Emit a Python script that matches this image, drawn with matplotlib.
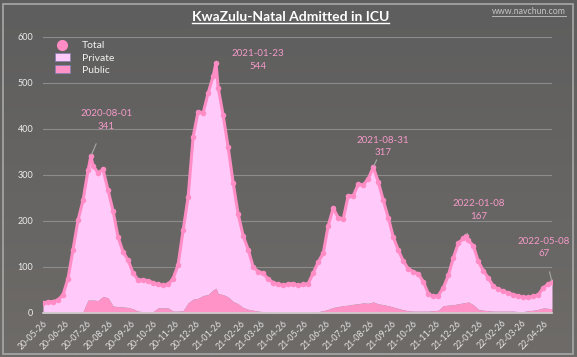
import matplotlib
matplotlib.use("Agg")
import matplotlib.pyplot as plt
import matplotlib.dates as mdates
from matplotlib.patches import Rectangle, Patch
from matplotlib.lines import Line2D
import numpy as np
import pandas as pd

plt.rcParams["font.family"] = ["Lato", "DejaVu Sans"]

# weekly readings starting 2020-05-26
start_date = "2020-05-26"
total_vals = [
    22, 24, 25, 28, 40, 75, 138, 202, 245, 310,
    320, 305, 312, 267, 222, 165, 133, 115, 87, 72,
    72, 70, 66, 62, 60, 62, 75, 105, 180, 252,
    383, 438, 435, 478, 515, 490, 430, 360, 283, 215,
    168, 138, 100, 90, 86, 74, 66, 62, 60, 63,
    64, 60, 62, 64, 87, 111, 130, 190, 228, 207,
    205, 255, 255, 280, 278, 292, 317, 285, 245, 207,
    165, 137, 113, 96, 90, 85, 68, 42, 36, 38,
    55, 82, 120, 152, 162, 158, 146, 112, 92, 76,
    58, 52, 47, 44, 40, 37, 34, 34, 36, 40,
    55, 63,
]
public_vals = [
    2, 2, 2, 2, 2, 2, 2, 2, 3, 28,
    28, 27, 36, 33, 15, 14, 13, 12, 9, 4,
    3, 3, 3, 11, 11, 11, 4, 4, 5, 22,
    30, 32, 38, 40, 50, 42, 40, 35, 25, 20,
    12, 8, 6, 4, 3, 3, 2, 2, 2, 2,
    2, 2, 2, 2, 2, 3, 5, 8, 12, 14,
    16, 17, 19, 20, 22, 21, 24, 20, 18, 16,
    13, 10, 7, 5, 4, 4, 4, 4, 5, 6,
    16, 17, 18, 20, 22, 24, 18, 8, 6, 5,
    4, 4, 4, 4, 4, 3, 3, 5, 6, 8,
    11, 10,
]

# peak days (and last day)
peak_dates = ["2020-08-01", "2021-01-23", "2022-01-08", "2022-05-08"]
peak_total = [341, 544, 167, 67]
peak_public = [28, 54, 23, 9]

ann_dates = ["2020-08-01", "2021-01-23", "2021-08-31", "2022-01-08", "2022-05-08"]
ann_offsets = [(11, 26), (30, 2), (7, 15), (9, 19), (-6, 25)]

weekly = pd.DataFrame({
    "date": pd.date_range(start_date, periods=len(total_vals), freq="7D"),
    "total": total_vals,
    "public": public_vals,
})
extra = pd.DataFrame({
    "date": pd.to_datetime(peak_dates),
    "total": peak_total,
    "public": peak_public,
})
df = pd.concat([weekly, extra]).sort_values("date").reset_index(drop=True)

fig = plt.figure(figsize=(5.77, 3.57), dpi=100)
fig.patch.set_facecolor("#5a5a5a")

# background gradient
bg = fig.add_axes([0, 0, 1, 1], zorder=-10)
grad = np.linspace(0, 1, 256).reshape(-1, 1)
c_top = np.array([0x5e, 0x5e, 0x5e]) / 255
c_bot = np.array([0x6e, 0x6b, 0x68]) / 255
img = c_top[None, None, :] * (1 - grad[:, :, None]) + c_bot[None, None, :] * grad[:, :, None]
bg.imshow(img, aspect="auto", extent=[0, 1, 0, 1])
bg.axis("off")
fig.add_artist(Rectangle((3 / 577, 3 / 357), 1 - 7 / 577, 1 - 7 / 357,
                         transform=fig.transFigure, fill=False,
                         edgecolor="#a8a8a8", linewidth=1.2))

ax = fig.add_axes([43 / 577, 1 - 313 / 357, 509 / 577, 276 / 357])
ax.set_facecolor("none")

pub_c = "#ff92c6"
priv_c = "#ffc9fa"
tot_c = "#ff8cc4"

ax.fill_between(df["date"], 0, df["public"], color=pub_c, linewidth=0, zorder=2)
ax.fill_between(df["date"], df["public"], df["total"], color=priv_c, linewidth=0, zorder=2)
ax.plot(df["date"], df["total"], color=tot_c, linewidth=2.2, zorder=3)
ax.plot(df["date"], df["total"], linestyle="none", marker="o", markersize=4.0,
        color=tot_c, markeredgewidth=0, zorder=4)

ax.set_ylim(0, 600)
ax.set_xlim(pd.Timestamp(start_date), df["date"].max())
ax.set_yticks(range(0, 601, 100))
ax.yaxis.grid(True, color="#8c8c8c", linewidth=0.8, zorder=0)
ax.set_axisbelow(True)

ticks = pd.date_range("2020-05-01", "2022-04-01", freq="MS") + pd.Timedelta(days=25)
ax.set_xticks(ticks)
ax.xaxis.set_major_formatter(mdates.DateFormatter("%y-%m-%d"))
plt.setp(ax.get_xticklabels(), rotation=45, ha="right", rotation_mode="anchor")
ax.tick_params(axis="x", length=0, pad=4, labelsize=6.3, labelcolor="#e4e4e4")
ax.tick_params(axis="y", length=0, pad=7, labelsize=6.5, labelcolor="#ececec")
for s in ["top", "right", "left"]:
    ax.spines[s].set_visible(False)
ax.spines["bottom"].set_color("#d0d0d0")
ax.spines["bottom"].set_linewidth(1.2)

# peak labels
for d, off in zip(ann_dates, ann_offsets):
    ts = pd.Timestamp(d)
    val = int(df.loc[df["date"] == ts, "total"].iloc[0])
    ax.annotate(f"{d}\n{val}", xy=(ts, val), xytext=off, textcoords="offset points",
                ha="center", va="center", fontsize=7, color="#f59ac8",
                linespacing=1.5, zorder=5,
                arrowprops=dict(arrowstyle="-", color="#a8a8a8", lw=0.8,
                                shrinkA=8, shrinkB=1))

handles = [
    Line2D([], [], linestyle="none", marker="o", markersize=8, color=tot_c,
           markeredgewidth=0),
    Patch(facecolor=priv_c, edgecolor="#8a80b0", linewidth=0.6),
    Patch(facecolor=pub_c, edgecolor="#8a80b0", linewidth=0.6),
]
leg = ax.legend(handles, ["Total", "Private", "Public"], loc="upper left",
                bbox_to_anchor=(0.005, 1.02), frameon=False, fontsize=7.5,
                handlelength=1.4, handleheight=0.8, labelspacing=0.25,
                handletextpad=1.2)
for t in leg.get_texts():
    t.set_color("#f2f2f2")

title = fig.text(0.503, 1 - 17 / 357, "KwaZulu-Natal Admitted in ICU", ha="center",
                 va="center", fontsize=10, fontweight="bold", color="white")
wm = fig.text(1 - 11 / 577, 1 - 11 / 357, "www.navchun.com", ha="right", va="center",
              fontsize=6.3, color="#c4c4c4")

fig.canvas.draw()
r = fig.canvas.get_renderer()
for t, c, lw in [(title, "white", 1.0), (wm, "#c4c4c4", 0.6)]:
    bb = t.get_window_extent(r).transformed(fig.transFigure.inverted())
    fig.add_artist(Line2D([bb.x0, bb.x1], [bb.y0, bb.y0], transform=fig.transFigure,
                          color=c, linewidth=lw))

fig.savefig("out.png", dpi=100, facecolor=fig.get_facecolor())
